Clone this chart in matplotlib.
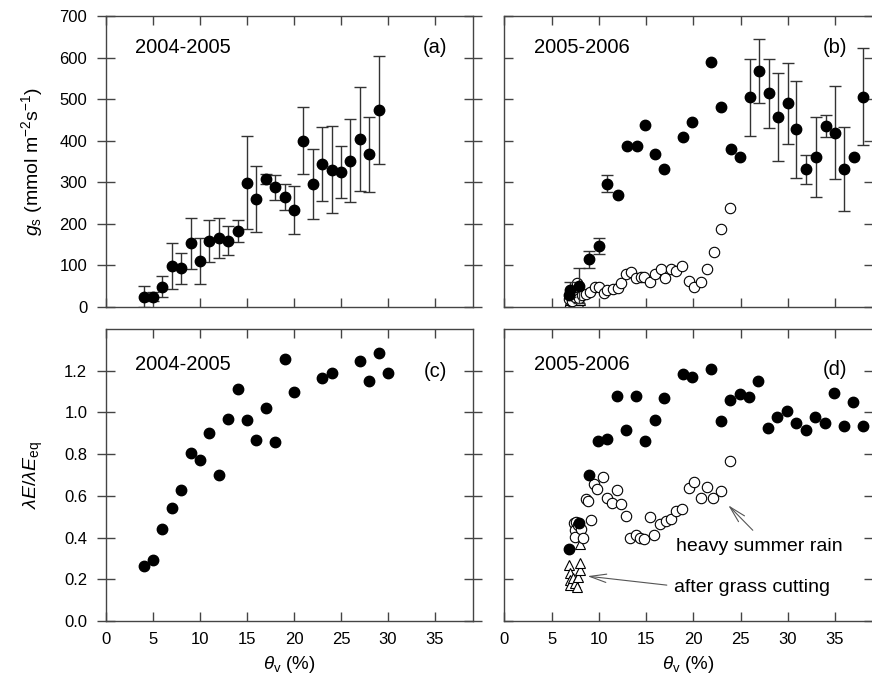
#--Stomatal conductance and lambdaE/lambdaEeq against soil moisture
import numpy as np
import matplotlib.pyplot as plt

plt.rcParams['font.family'] = ['Liberation Sans', 'DejaVu Sans']
plt.rcParams['mathtext.fontset'] = 'custom'
plt.rcParams['mathtext.rm'] = 'Liberation Sans'
plt.rcParams['mathtext.it'] = 'Liberation Sans:italic'

#--(a) 2004-2005 gs
a_x = [4, 5, 6, 7, 8, 9, 10, 11, 12, 13, 14, 15, 16, 17, 18, 19, 20, 21, 22, 23, 24, 25, 26, 27, 28, 29]
a_y = [25, 25, 49, 99, 93, 153, 111, 159, 165, 159, 183, 299, 260, 308, 288, 264, 233, 400, 296, 344, 330, 325, 352, 404, 367, 473]
a_err = [25, 10, 25, 55, 37, 62, 55, 50, 48, 35, 26, 112, 80, 12, 30, 31, 57, 80, 84, 88, 105, 62, 100, 126, 90, 130]

#--(b) 2005-2006 gs
b_x = [6.9, 7.0, 7.9, 9.0, 10.0, 10.9, 12.0, 13.0, 14.0, 14.9, 15.9, 16.9, 18.9, 19.9, 21.9, 22.9,
       24.0, 24.9, 26.0, 27.0, 28.0, 29.0, 30.0, 30.9, 31.9, 33.0, 34.0, 35.0, 36.0, 37.0, 38.0]
b_y = [29, 41, 51, 115, 147, 297, 269, 388, 388, 437, 368, 331, 410, 444, 590, 480,
       381, 362, 504, 568, 514, 457, 490, 427, 331, 360, 435, 419, 331, 360, 506]
b_err = [0, 18, 42, 20, 20, 20, 0, 0, 0, 0, 0, 0, 0, 0, 0, 0,
         0, 0, 92, 77, 83, 105, 97, 116, 34, 96, 26, 112, 101, 0, 116]
b_open_x = [6.9, 7.0, 7.2, 7.4, 7.5, 7.7, 7.9, 8.2, 8.65, 9.1, 9.6, 10.05, 10.5, 10.9, 11.5, 12.0, 12.4, 12.9,
            13.4, 13.9, 14.5, 14.8, 15.4, 15.9, 16.6, 17.0, 17.6, 18.2, 18.8, 19.5, 20.1, 20.8, 21.5, 22.2, 22.9, 23.9]
b_open_y = [20, 28, 15, 37, 25, 57, 22, 29, 31, 35, 49, 49, 33, 42, 43, 45, 58, 79,
            83, 69, 73, 71, 61, 79, 91, 70, 91, 87, 99, 63, 49, 59, 91, 132, 187, 237]
b_tri_x = [6.9, 7.0, 7.2, 7.4, 7.6, 7.8, 8.0]
b_tri_y = [10, 18, 8, 14, 20, 12, 16]

#--(c) 2004-2005 lambdaE/lambdaEeq
c_x = [4, 5, 6, 7, 8, 9, 10, 11, 12, 13, 14, 15, 16, 17, 18, 19, 20, 23, 24, 27, 28, 29, 30]
c_y = [0.263, 0.292, 0.441, 0.542, 0.630, 0.806, 0.771, 0.903, 0.699, 0.967, 1.110, 0.962,
       0.868, 1.021, 0.857, 1.257, 1.098, 1.165, 1.187, 1.248, 1.149, 1.287, 1.187]

#--(d) 2005-2006 lambdaE/lambdaEeq
d_x = [6.9, 7.9, 8.96, 9.9, 10.9, 11.9, 12.9, 13.9, 14.9, 15.9, 16.9, 18.9, 19.9, 21.9, 22.9,
       23.9, 24.9, 25.9, 26.9, 27.9, 28.9, 29.9, 30.9, 31.9, 32.9, 33.9, 34.9, 35.9, 36.9, 37.95]
d_y = [0.343, 0.470, 0.698, 0.862, 0.875, 1.080, 0.918, 1.080, 0.864, 0.966, 1.069, 1.184, 1.168, 1.208, 0.958,
       1.060, 1.087, 1.072, 1.152, 0.926, 0.980, 1.009, 0.950, 0.918, 0.980, 0.950, 1.093, 0.935, 1.052, 0.935]
d_open_x = [7.4, 7.5, 7.5, 7.6, 7.8, 8.1, 8.3, 8.6, 8.9, 9.2, 9.5, 9.8, 10.4, 10.9, 11.4, 11.9, 12.4, 12.9,
            13.3, 13.9, 14.4, 14.8, 15.4, 15.8, 16.5, 17.1, 17.6, 18.2, 18.8, 19.5, 20.1, 20.8, 21.5, 22.1, 22.9, 23.9]
d_open_y = [0.47, 0.435, 0.403, 0.475, 0.46, 0.44, 0.398, 0.583, 0.575, 0.486, 0.658, 0.634, 0.690, 0.589, 0.567,
            0.626, 0.559, 0.503, 0.400, 0.411, 0.398, 0.392, 0.499, 0.411, 0.464, 0.478, 0.491, 0.526, 0.535,
            0.637, 0.668, 0.591, 0.642, 0.591, 0.621, 0.766]
d_tri_x = [6.9, 7.0, 7.0, 7.0, 7.3, 7.5, 7.7, 7.8, 8.0, 8.0, 8.0]
d_tri_y = [0.268, 0.228, 0.196, 0.172, 0.204, 0.180, 0.164, 0.212, 0.244, 0.276, 0.368]

gs_ticks = [0, 100, 200, 300, 400, 500, 600, 700]
ratio_ticks = [0.0, 0.2, 0.4, 0.6, 0.8, 1.0, 1.2]
x_ticks = [0, 5, 10, 15, 20, 25, 30, 35]

W, H = 872, 683
fig = plt.figure(figsize=(W/100, H/100), dpi=100)

def box(l, r, t, b):
  return [l/W, 1 - b/H, (r - l)/W, (b - t)/H]

ax_a = fig.add_axes(box(106, 472.6, 16, 307))
ax_b = fig.add_axes(box(504.3, 872.8, 16, 307))
ax_c = fig.add_axes(box(106, 472.6, 329, 621))
ax_d = fig.add_axes(box(504.3, 872.8, 329, 621))

ms = 7.5
ecol = '#333333'

def errs(ax, x, y, e):
  x, y, e = np.array(x), np.array(y), np.array(e)
  m = e > 0
  ax.errorbar(x[m], y[m], yerr=e[m], fmt='none', ecolor=ecol, elinewidth=1.0,
              capsize=4, capthick=1.0, zorder=2)

#--(a)
errs(ax_a, a_x, a_y, a_err)
ax_a.plot(a_x, a_y, 'o', color='black', ms=ms, zorder=3)

#--(b)
ax_b.plot(b_tri_x, b_tri_y, '^', mfc='white', mec='black', mew=0.8, ms=7, zorder=2)
ax_b.plot(b_open_x, b_open_y, 'o', mfc='white', mec='black', mew=0.8, ms=ms, zorder=2)
errs(ax_b, b_x, b_y, b_err)
ax_b.plot(b_x, b_y, 'o', color='black', ms=ms, zorder=3)

#--(c)
ax_c.plot(c_x, c_y, 'o', color='black', ms=ms, zorder=3)

#--(d)
ax_d.plot(d_tri_x, d_tri_y, '^', mfc='white', mec='black', mew=0.8, ms=7, zorder=2)
ax_d.plot(d_open_x, d_open_y, 'o', mfc='white', mec='black', mew=0.8, ms=ms, zorder=2)
ax_d.plot(d_x, d_y, 'o', color='black', ms=ms, zorder=3)

#--Axes cosmetics
for ax in (ax_a, ax_b, ax_c, ax_d):
  ax.set_xlim(0, 39)
  ax.set_xticks(x_ticks)
  for s in ax.spines.values():
    s.set_color('#444444')
    s.set_linewidth(1.0)
  ax.tick_params(which='both', direction='in', length=6.5, width=1.0, color='#444444',
                 top=True, right=True, labelsize=12)
for ax in (ax_a, ax_b):
  ax.set_ylim(0, 700)
  ax.set_yticks(gs_ticks)
  ax.tick_params(axis='x', labelbottom=False)
for ax in (ax_c, ax_d):
  ax.set_ylim(0, 1.4)
  ax.set_yticks(ratio_ticks)
  ax.set_yticklabels(['%.1f' % v for v in ratio_ticks])
  ax.tick_params(axis='x', pad=8)
  ax.set_xlabel(r'$\theta_{\rm v}$ (%)', fontsize=13.5, labelpad=5)
for ax in (ax_b, ax_d):
  ax.tick_params(axis='y', labelleft=False)
for ax in (ax_a, ax_c):
  ax.tick_params(axis='y', which='both', direction='inout', length=13, pad=7, left=True)

ax_a.set_ylabel(r'$\mathit{g}_{\rm s}$ (mmol m$^{-2}$s$^{-1}$)', fontsize=14, labelpad=10)
ax_c.set_ylabel(r'$\lambda\mathit{E}/\lambda\mathit{E}_{\rm eq}$', fontsize=14, labelpad=14)

#--Panel labels
for ax, yr, tag, yy, ty in ((ax_a, '2004-2005', '(a)', 0.893, 0.893), (ax_b, '2005-2006', '(b)', 0.893, 0.893),
                            (ax_c, '2004-2005', '(c)', 0.88, 0.856), (ax_d, '2005-2006', '(d)', 0.88, 0.86)):
  ax.text(0.08, yy, yr, transform=ax.transAxes, fontsize=14.5, va='center', ha='left')
  ax.text(0.93, ty, tag, transform=ax.transAxes, fontsize=14.5, va='center', ha='right')

#--Annotations in (d)
aprops = dict(arrowstyle='->,head_length=1.2,head_width=0.3', color='#555555', lw=0.8,
              shrinkA=0, shrinkB=0)
ax_d.annotate('', xy=(23.7, 0.555), xytext=(26.3, 0.435), arrowprops=aprops)
ax_d.text(18.2, 0.355, 'heavy summer rain', fontsize=14, va='center', ha='left')
ax_d.annotate('', xy=(8.8, 0.215), xytext=(17.2, 0.172), arrowprops=aprops)
ax_d.text(18.0, 0.163, 'after grass cutting', fontsize=14, va='center', ha='left')

fig.savefig('out.png', dpi=100)
